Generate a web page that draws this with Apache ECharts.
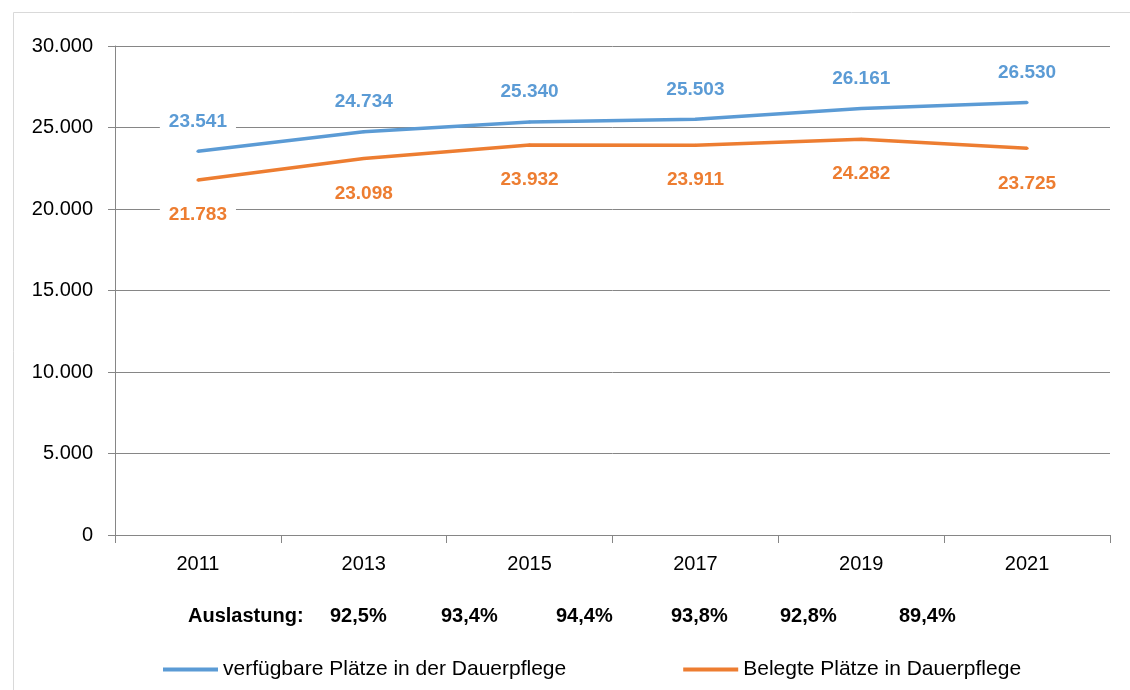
<!DOCTYPE html>
<html>
<head>
<meta charset="utf-8">
<script src="https://cdn.jsdelivr.net/npm/echarts@6/dist/echarts.min.js"></script>
<style>
html,body{margin:0;padding:0;background:#fff;}
#main{width:1130px;height:690px;}
</style>
</head>
<body>
<div id="main"></div>
<script>
var years = ['2011','2013','2015','2017','2019','2021'];
var verfuegbar = [23541, 24734, 25340, 25503, 26161, 26530];
var belegt = [21783, 23098, 23932, 23911, 24282, 23725];
var auslastungLabel = 'Auslastung:';
var auslastung = ['92,5%','93,4%','94,4%','93,8%','92,8%','89,4%'];
var seriesNames = ['verfügbare Plätze in der Dauerpflege','Belegte Plätze in Dauerpflege'];

var FONT = '"Liberation Sans", Arial, sans-serif';
var BLUE = '#5B9BD5', ORANGE = '#ED7D31';

function de(n){ return String(n).replace(/\B(?=(\d{3})+(?!\d))/g, '.'); }

var auslX = [188, 330, 441, 556, 671, 780, 899];
var graphics = [{
  type:'rect', left:11, top:10, shape:{width:1300, height:900},
  style:{fill:'none', stroke:'#d9d9d9', lineWidth:1}, silent:true
}];
[auslastungLabel].concat(auslastung).forEach(function(t,i){
  graphics.push({type:'text', left:auslX[i], top:606,
    style:{text:t, fill:'#000', font:'bold 20px ' + FONT}});
});

var chart = echarts.init(document.getElementById('main'));
chart.setOption({
  backgroundColor:'#fff',
  animation:false,
  textStyle:{fontFamily:FONT},
  grid:{left:115, right:20, top:46, bottom:155, containLabel:false},
  legend:{
    left:158, top:654, itemWidth:55, itemHeight:4, itemGap:117, icon:'rect',
    textStyle:{fontSize:21, color:'#000', fontFamily:FONT},
    data:[{name:seriesNames[0], itemStyle:{color:BLUE}}, {name:seriesNames[1], itemStyle:{color:ORANGE}}]
  },
  xAxis:{
    type:'category', data:years, boundaryGap:true,
    axisLine:{lineStyle:{color:'#868686', width:1}},
    axisTick:{show:true, length:8, lineStyle:{color:'#868686'}},
    axisLabel:{fontSize:20, color:'#000', margin:19, fontFamily:FONT}
  },
  yAxis:{
    type:'value', min:0, max:30000, interval:5000,
    axisLine:{show:true, lineStyle:{color:'#868686', width:1}},
    axisTick:{show:true, length:7, lineStyle:{color:'#868686'}},
    axisLabel:{fontSize:20, color:'#000', margin:22, fontFamily:FONT, formatter:function(v){return de(v);}},
    splitLine:{lineStyle:{color:'#868686', width:1}}
  },
  graphic:graphics,
  series:[
    {name:seriesNames[0], type:'line', data:verfuegbar, showSymbol:true, symbol:'circle', symbolSize:3,
     lineStyle:{color:BLUE, width:3.5}, itemStyle:{color:BLUE},
     label:{show:true, position:'top', distance:16, color:BLUE, fontSize:19, fontWeight:'bold',
       fontFamily:FONT, backgroundColor:'#fff', padding:[3,9], formatter:function(p){return de(p.value);}}},
    {name:seriesNames[1], type:'line', data:belegt, showSymbol:true, symbol:'circle', symbolSize:3,
     lineStyle:{color:ORANGE, width:3.5}, itemStyle:{color:ORANGE},
     label:{show:true, position:'bottom', distance:21, color:ORANGE, fontSize:19, fontWeight:'bold',
       fontFamily:FONT, backgroundColor:'#fff', padding:[3,9], formatter:function(p){return de(p.value);}}}
  ]
});
</script>
</body>
</html>
